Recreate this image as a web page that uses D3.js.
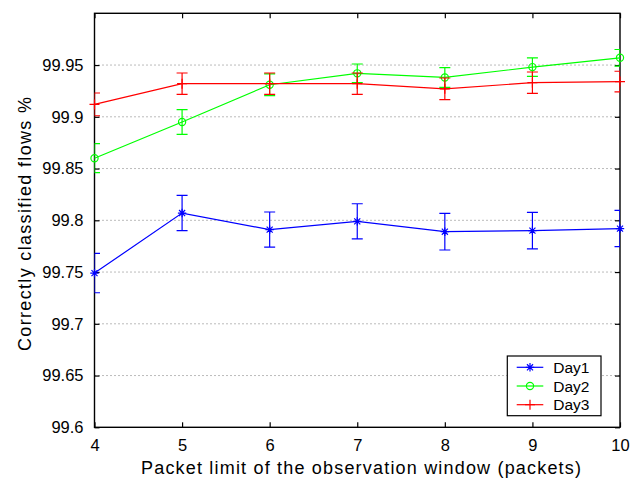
<!DOCTYPE html>
<html>
<head>
    <title>Correctly classified flows</title>
    <script src="https://cdn.jsdelivr.net/npm/d3@7"></script>
    <style>
        body { margin: 0; background: #fff; }
        text { font-family: 'Liberation Sans', Arial, sans-serif; fill: #000; }
    </style>
</head>
<body>
    <svg width="639" height="481" id="mainsvg"></svg>
    <script>
        // data
        const packets = [4, 5, 6, 7, 8, 9, 10];
        const day1 = [99.749, 99.807, 99.791, 99.799, 99.789, 99.790, 99.792];
        const day1Err = [0.019, 0.017, 0.017, 0.017, 0.0177, 0.0177, 0.0175];
        const day2 = [99.860, 99.895, 99.931, 99.942, 99.938, 99.948, 99.957];
        const day2Err = [0.014, 0.012, 0.0105, 0.009, 0.0095, 0.009, 0.008];
        const day3 = [99.912, 99.932, 99.932, 99.932, 99.927, 99.933, 99.934];
        const day3Err = [0.011, 0.0103, 0.0103, 0.0103, 0.0105, 0.0103, 0.0100];
        const seriesNames = ['Day1', 'Day2', 'Day3'];
        const xTicks = [4, 5, 6, 7, 8, 9, 10];
        const yTicks = [99.6, 99.65, 99.7, 99.75, 99.8, 99.85, 99.9, 99.95];

        const series = [
            { name: seriesNames[0], values: day1, err: day1Err, color: '#0000ff', marker: 'star' },
            { name: seriesNames[1], values: day2, err: day2Err, color: '#00ff00', marker: 'circle' },
            { name: seriesNames[2], values: day3, err: day3Err, color: '#ff0000', marker: 'plus' }
        ];

        const svg = d3.select('svg');
        const margin = { top: 13.3, right: 19, bottom: 53.7, left: 94.5 };
        const innerWidth = 639 - margin.left - margin.right;
        const innerHeight = 481 - margin.top - margin.bottom;
        const g = svg.append('g')
            .attr('transform', `translate(${margin.left}, ${margin.top})`);

        const x = d3.scaleLinear().domain([4, 10]).range([0, innerWidth]);
        const y = d3.scaleLinear().domain([99.6, 100]).range([innerHeight, 0]);

        svg.append('defs').append('clipPath').attr('id', 'plotclip')
            .append('rect').attr('width', innerWidth).attr('height', innerHeight);

        // dotted horizontal grid
        g.append('g').selectAll('line').data(yTicks.slice(1)).join('line')
            .attr('x1', 0).attr('x2', innerWidth)
            .attr('y1', d => y(d)).attr('y2', d => y(d))
            .attr('stroke', '#777').attr('stroke-width', 1)
            .attr('stroke-dasharray', '1,3');

        const fmt = d => String(+d.toFixed(2));

        // axes: ticks pointing inward on all four sides
        const axisStyle = sel => {
            sel.select('.domain').remove();
            sel.selectAll('.tick line').attr('stroke', '#000').attr('stroke-width', 1.2);
            sel.selectAll('.tick text').style('font-size', '16.5px')
                .style('font-family', "'Liberation Sans', Arial, sans-serif");
        };
        const noLabels = sel => sel.selectAll('.tick text').remove();
        g.append('g').attr('transform', `translate(0, ${innerHeight})`)
            .call(d3.axisBottom(x).tickValues(xTicks).tickFormat(fmt).tickSizeInner(-5).tickPadding(12))
            .call(axisStyle);
        g.append('g')
            .call(d3.axisTop(x).tickValues(xTicks).tickSizeInner(-5))
            .call(axisStyle).call(noLabels);
        g.append('g')
            .call(d3.axisLeft(y).tickValues(yTicks).tickFormat(fmt).tickSizeInner(-5).tickPadding(11))
            .call(axisStyle);
        g.append('g').attr('transform', `translate(${innerWidth}, 0)`)
            .call(d3.axisRight(y).tickValues(yTicks).tickSizeInner(-5))
            .call(axisStyle).call(noLabels);

        g.append('rect').attr('width', innerWidth).attr('height', innerHeight)
            .attr('fill', 'none').attr('stroke', '#000').attr('stroke-width', 1.4);

        const markerPath = (type, s) => {
            if (type === 'circle') return d3.symbol().type(d3.symbolCircle).size(Math.PI * 3.6 * 3.6)();
            if (type === 'plus') return `M${-s},0H${s}M0,${-s}V${s}`;
            const d = s * 0.72;
            return `M${-s},0H${s}M0,${-s}V${s}M${-d},${-d}L${d},${d}M${-d},${d}L${d},${-d}`;
        };

        const line = d3.line().x(d => x(d.x)).y(d => y(d.y));
        const cap = 5.5;

        series.forEach(s => {
            const pts = packets.map((p, i) => ({ x: p, y: s.values[i], e: s.err[i] }));
            const sg = g.append('g');
            const clipped = sg.append('g').attr('clip-path', 'url(#plotclip)');
            clipped.append('path').datum(pts).attr('d', line)
                .attr('fill', 'none').attr('stroke', s.color).attr('stroke-width', 1.2);
            clipped.selectAll('path.err').data(pts).join('path').attr('class', 'err')
                .attr('d', d => {
                    const cx = x(d.x), t = y(d.y + d.e), b = y(d.y - d.e);
                    return `M${cx},${t}V${b}M${cx - cap},${t}H${cx + cap}M${cx - cap},${b}H${cx + cap}`;
                })
                .attr('fill', 'none').attr('stroke', s.color).attr('stroke-width', 1.2);
            sg.selectAll('path.mk').data(pts).join('path').attr('class', 'mk')
                .attr('transform', d => `translate(${x(d.x)}, ${y(d.y)})`)
                .attr('d', markerPath(s.marker, s.marker === 'plus' ? 5 : 4.2))
                .attr('fill', 'none').attr('stroke', s.color).attr('stroke-width', 1.2);
        });

        // legend
        const lg = svg.append('g').attr('transform', 'translate(507.3, 356)');
        lg.append('rect').attr('width', 93.7).attr('height', 59.7)
            .attr('fill', '#fff').attr('stroke', '#000').attr('stroke-width', 1.2);
        series.forEach((s, i) => {
            const ly = 11.3 + i * 18.7;
            lg.append('line').attr('x1', 9.4).attr('x2', 36).attr('y1', ly).attr('y2', ly)
                .attr('stroke', s.color).attr('stroke-width', 1.2);
            lg.append('path').attr('transform', `translate(22.7, ${ly})`)
                .attr('d', markerPath(s.marker, s.marker === 'plus' ? 5 : 4.2))
                .attr('fill', 'none').attr('stroke', s.color).attr('stroke-width', 1.2);
            lg.append('text').attr('x', 46).attr('y', ly + 5.5)
                .style('font-size', '15.5px').text(s.name);
        });

        // axis titles
        svg.append('text').attr('x', 361).attr('y', 474)
            .attr('text-anchor', 'middle').style('font-size', '18px')
            .attr('textLength', 440).attr('lengthAdjust', 'spacing')
            .text('Packet limit of the observation window (packets)');
        svg.append('text')
            .attr('transform', 'translate(31, 224) rotate(-90)')
            .attr('text-anchor', 'middle').style('font-size', '18px')
            .attr('textLength', 254).attr('lengthAdjust', 'spacing')
            .text('Correctly classified flows %');
    </script>
</body>
</html>
